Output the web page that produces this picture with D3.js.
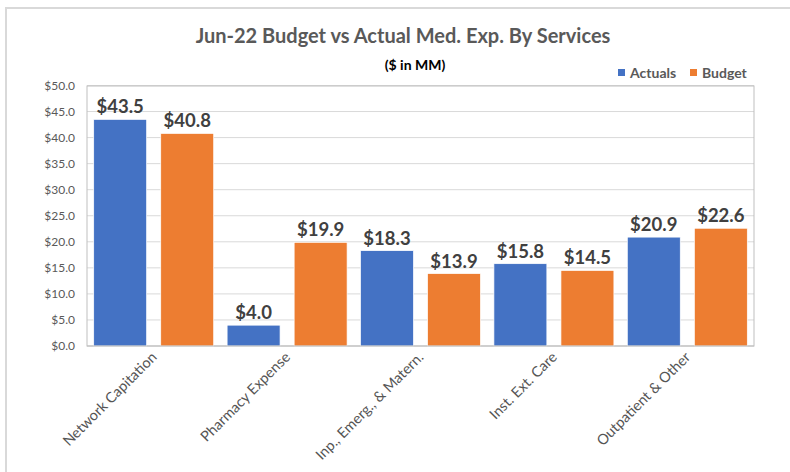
<!DOCTYPE html>
<html><head><meta charset="utf-8">
<script src="https://cdn.jsdelivr.net/npm/d3@7"></script>
<style>
body{margin:0;background:#fff;}
text{font-family:Lato,"Open Sans",sans-serif;}
</style></head>
<body><svg id="c" width="790" height="472"></svg>
<script>
const categories = ["Network Capitation","Pharmacy Expense","Inp., Emerg., & Matern.","Inst. Ext. Care","Outpatient & Other"];
const actuals = [43.5, 4.0, 18.3, 15.8, 20.9];
const budget = [40.8, 19.9, 13.9, 14.5, 22.6];
const seriesNames = ["Actuals","Budget"];
const colors = ["#4472C4","#ED7D31"];
const yTicks = [0,5,10,15,20,25,30,35,40,45,50];

const svg = d3.select("#c");
const m = {l:87, r:754, t:86, b:346};

// outer chart border
svg.append("rect").attr("x",6).attr("y",8).attr("width",800).attr("height",480)
  .attr("fill","#fff").attr("stroke","#d9d9d9").attr("stroke-width",2);

const x0 = d3.scaleBand().domain(categories).range([m.l, m.r]).paddingInner(0).paddingOuter(0);
const x1 = d3.scaleBand().domain(seriesNames).range([0, x0.bandwidth()]).paddingInner(0.21).paddingOuter(0.1);
const y = d3.scaleLinear().domain([0,50]).range([m.b, m.t-0.5]);

// gridlines
svg.append("g").selectAll("line").data(yTicks.slice(1)).join("line")
  .attr("x1",m.l).attr("x2",m.r).attr("y1",d=>y(d)).attr("y2",d=>y(d))
  .attr("stroke","#d9d9d9").attr("stroke-width",1);

// y axis labels
const ya = svg.append("g").attr("transform",`translate(${m.l},0)`)
  .call(d3.axisLeft(y).tickValues(yTicks).tickFormat(d=>"$"+d3.format(".1f")(d)).tickSize(0).tickPadding(12));
ya.select(".domain").remove();
ya.selectAll("text").attr("fill","#595959").style("font-size","12px").style("font-family","Lato,sans-serif");

// plot frame
svg.append("rect").attr("x",m.l).attr("y",m.t).attr("width",m.r-m.l).attr("height",m.b-m.t)
  .attr("fill","none").attr("stroke","#bfbfbf").attr("stroke-width",1);

const data = categories.map((c,i)=>({c, vals:[actuals[i], budget[i]]}));
const groups = svg.append("g").selectAll("g").data(data).join("g")
  .attr("transform",d=>`translate(${x0(d.c)},0)`);
groups.selectAll("rect").data(d=>d.vals.map((v,j)=>({v,s:seriesNames[j],j}))).join("rect")
  .attr("x",d=>x1(d.s)).attr("width",x1.bandwidth())
  .attr("y",d=>y(d.v)).attr("height",d=>y(0)-y(d.v))
  .attr("fill",d=>colors[d.j]).attr("stroke","#fff").attr("stroke-width",0.7);
groups.selectAll("text").data(d=>d.vals.map((v,j)=>({v,s:seriesNames[j],j}))).join("text")
  .attr("x",d=>x1(d.s)+x1.bandwidth()/2).attr("y",d=>y(d.v)-6)
  .attr("text-anchor","middle").attr("fill","#404040")
  .style("font-size","18.5px").style("font-weight","bold")
  .text(d=>"$"+d3.format(".1f")(d.v));

// x axis line
svg.append("line").attr("x1",m.l).attr("x2",m.r).attr("y1",m.b).attr("y2",m.b).attr("stroke","#bfbfbf");

// x labels
svg.append("g").selectAll("text").data(categories).join("text")
  .attr("transform",d=>`translate(${x0(d)+x0.bandwidth()/2+4},${m.b+12}) rotate(-45)`)
  .attr("text-anchor","end").attr("fill","#555").style("font-size","14.5px")
  .text(d=>d);

// title
svg.append("text").attr("x",403).attr("y",43).attr("text-anchor","middle")
  .attr("fill","#595959").style("font-size","20px").style("font-weight","bold")
  .text("Jun-22 Budget vs Actual Med. Exp. By Services");
svg.append("text").attr("x",415).attr("y",70).attr("text-anchor","middle")
  .attr("fill","#000").style("font-size","14px").style("font-weight","bold")
  .text("($ in MM)");

// legend
const leg = svg.append("g").selectAll("g").data(seriesNames).join("g")
  .attr("transform",(d,i)=>`translate(${i===0?618:690},73)`);
leg.append("rect").attr("x",0).attr("y",-4).attr("width",7).attr("height",7).attr("fill",(d,i)=>colors[i]);
leg.append("text").attr("x",12).attr("y",4.5).attr("fill","#595959").style("font-size","14px").style("font-weight","bold").text(d=>d);
</script></body></html>
